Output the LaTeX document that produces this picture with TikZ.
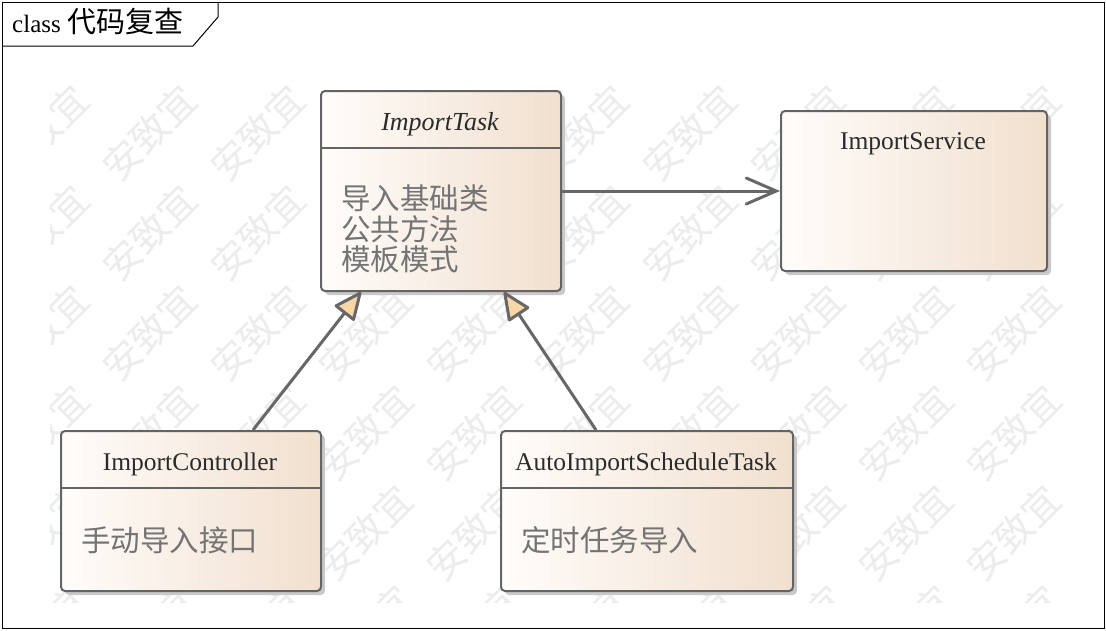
\documentclass[tikz,border=0pt]{standalone}
\usepackage{fontspec}
\setmainfont{Liberation Serif}
\newfontfamily\cjk{Noto Sans CJK SC}
\usetikzlibrary{arrows.meta,shadows}
\definecolor{boxline}{HTML}{646464}
\definecolor{gradL}{HTML}{FFFCFA}
\definecolor{gradR}{HTML}{F1E0CF}
\definecolor{shadowgray}{HTML}{C9C9C9}
\definecolor{titlecol}{HTML}{2B2B2B}
\definecolor{bodycol}{HTML}{747474}
\definecolor{tanfill}{HTML}{F8D6A6}
\definecolor{arrowcol}{HTML}{676767}
\definecolor{wmcol}{HTML}{ECECEC}
\begin{document}
\begin{tikzpicture}[x=1pt,y=-1pt,
  classbox/.style={draw=boxline, line width=2pt, rounded corners=4pt,
    left color=gradL, right color=gradR, inner sep=0pt, anchor=north west,
    drop shadow={shadow xshift=4pt, shadow yshift=-4pt, fill=shadowgray, opacity=1}},
  divider/.style={draw=boxline, line width=2pt},
  titletext/.style={text=titlecol, inner sep=0pt, font=\fontsize{25.5}{30}\selectfont},
  bodytext/.style={text=bodycol, inner sep=0pt, anchor=west, align=left,
    font=\cjk\fontsize{29.5}{30.5}\selectfont},
  assoc/.style={draw=arrowcol, line width=3pt,
    -{Straight Barb[length=30pt,width=26pt,line cap=round]}},
  general/.style={draw=arrowcol, line width=3pt,
    -{Triangle[length=30pt,width=26pt,fill=tanfill,line join=round]}},
  wm/.style={text=wmcol, rotate=45, inner sep=0pt, font=\cjk\fontsize{38}{38}\selectfont}
]
\useasboundingbox (0,0) rectangle (1106,630);
\fill[white] (0,0) rectangle (1106,630);

% watermark (background, partly hidden by the classes)
\begin{scope}
  \clip (50,85) rectangle (1062,602);
  \foreach \x in {42,150,...,1014} {
    \foreach \y in {133,233,...,633} {
      \pgfmathtruncatemacro{\hidden}{
        ((\x>360)&&(\x<520)&&(\y>130)&&(\y<250)) ||
        ((\x>100)&&(\x<280)&&(\y>470)&&(\y<550)) ||
        ((\x>540)&&(\x<750)&&(\y>470)&&(\y<550))}
      \ifnum\hidden=0
        \node[wm] (wm-\x-\y) at (\x,\y) {安致宜};
      \fi
    }
  }
\end{scope}

% frame and tab
\draw[black, line width=1pt] (2,2) rectangle (1104,628);
\draw[black, line width=1pt] (2,46) -- (193,46) -- (218,17) -- (218,2);
\node[anchor=west, inner sep=0pt, text=black] (frametitle) at (12,22)
  {\fontsize{25}{30}\selectfont class {\cjk\fontsize{29}{30}\selectfont 代码复查}};

% classes
\node[classbox, minimum width=240pt, minimum height=200pt] (task) at (320,90) {};
\draw[divider] ([yshift=-58pt]task.north west) -- ([yshift=-58pt]task.north east);
\node[titletext, font=\itshape\fontsize{26}{30}\selectfont] (tasktitle) at (440,124) {ImportTask};
\node[bodytext] (taskbody) at (341,229) {导入基础类\\公共方法\\模板模式};

\node[classbox, minimum width=266pt, minimum height=160pt] (service) at (780,110) {};
\node[titletext] (servicetitle) at (913,144) {ImportService};

\node[classbox, minimum width=260pt, minimum height=160pt] (ctrl) at (60,430) {};
\draw[divider] ([yshift=-58pt]ctrl.north west) -- ([yshift=-58pt]ctrl.north east);
\node[titletext] (ctrltitle) at (190,464) {ImportController};
\node[bodytext] (ctrlbody) at (81,540) {手动导入接口};

\node[classbox, minimum width=292pt, minimum height=160pt] (auto) at (500,430) {};
\draw[divider] ([yshift=-58pt]auto.north west) -- ([yshift=-58pt]auto.north east);
\node[titletext] (autotitle) at (646,464) {AutoImportScheduleTask};
\node[bodytext] (autobody) at (521,540) {定时任务导入};

% connectors
\draw[assoc] (task.east) -- (service.west);
\draw[general] ([xshift=62pt]ctrl.north) -- ([xshift=-80pt]task.south);
\draw[general] ([xshift=-51pt]auto.north) -- ([xshift=63pt]task.south);
\end{tikzpicture}
\end{document}
